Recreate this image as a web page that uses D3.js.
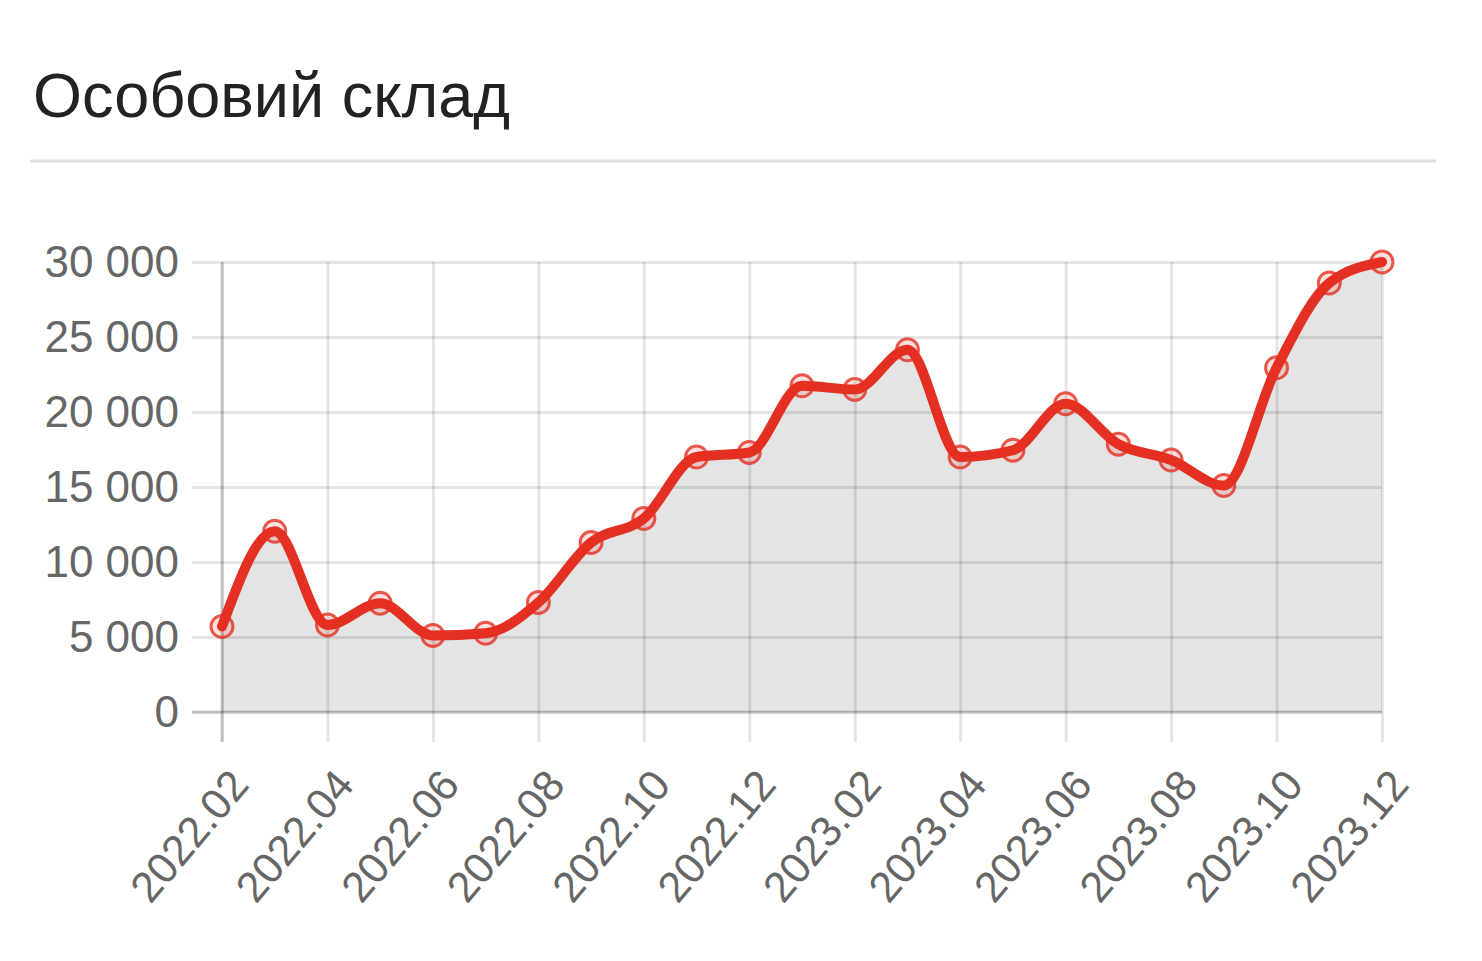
<!DOCTYPE html>
<html>
<head>
<meta charset="utf-8">
<script src="https://cdn.jsdelivr.net/npm/d3@7"></script>
<style>
  html, body { margin: 0; padding: 0; background: #fff; }
  svg { display: block; font-family: "Liberation Sans", Arial, Helvetica, sans-serif; }
</style>
</head>
<body>
<svg id="chart" width="1482" height="961"></svg>
<script>
const title = "Особовий склад";
const months = ["2022.02","2022.03","2022.04","2022.05","2022.06","2022.07","2022.08","2022.09","2022.10","2022.11","2022.12",
                "2023.01","2023.02","2023.03","2023.04","2023.05","2023.06","2023.07","2023.08","2023.09","2023.10","2023.11","2023.12"];
const personnel = [5700, 12050, 5800, 7250, 5100, 5250, 7300, 11300, 12900, 17000, 17300,
                   21750, 21500, 24150, 17000, 17450, 20550, 17850, 16800, 15100, 22950, 28600, 30000];
const xTickLabels = ["2022.02","2022.04","2022.06","2022.08","2022.10","2022.12","2023.02","2023.04","2023.06","2023.08","2023.10","2023.12"];
const yTicks = [0, 5000, 10000, 15000, 20000, 25000, 30000];

const svg = d3.select("#chart");
const pLeft = 222, pRight = 1382, pTop = 262, pBottom = 712;
const red = "rgb(228,48,34)";

// Title and separator
svg.append("text").attr("x", 33).attr("y", 117)
  .attr("font-size", 63).attr("fill", "#222").text(title);
svg.append("line").attr("x1", 30).attr("x2", 1436).attr("y1", 161).attr("y2", 161)
  .attr("stroke", "#e0e0e0").attr("stroke-width", 3);

const x = d3.scalePoint().domain(months).range([pLeft, pRight]);
const y = d3.scaleLinear().domain([0, 30000]).range([pBottom, pTop]);

const data = months.map((m, i) => ({ m, v: personnel[i] }));

// Area fill
const area = d3.area().x(d => x(d.m)).y0(y(0)).y1(d => y(d.v)).curve(d3.curveMonotoneX);
svg.append("path").datum(data).attr("d", area).attr("fill", "#e4e4e4");

const fmt = v => d3.format(",")(v).replace(/,/g, " ");

// Y axis with gridlines
const yAxis = svg.append("g").attr("transform", `translate(${pRight},0)`)
  .call(d3.axisLeft(y).tickValues(yTicks).tickSize(pRight - 192).tickPadding(13).tickFormat(fmt));
yAxis.select(".domain").remove();
yAxis.selectAll(".tick line").attr("stroke", "rgba(0,0,0,0.1)").attr("stroke-width", 3);
yAxis.selectAll(".tick text").attr("font-size", 44).attr("fill", "#666")
  .attr("font-family", "Liberation Sans, Arial, sans-serif");

// X axis with gridlines
const xAxis = svg.append("g").attr("transform", `translate(0,${pTop})`)
  .call(d3.axisBottom(x).tickValues(xTickLabels).tickSize(742 - pTop).tickPadding(0));
xAxis.select(".domain").remove();
xAxis.selectAll(".tick line").attr("stroke", "rgba(0,0,0,0.1)").attr("stroke-width", 3);
xAxis.selectAll(".tick text")
  .attr("font-size", 43).attr("fill", "#666")
  .attr("font-family", "Liberation Sans, Arial, sans-serif")
  .attr("x", null).attr("y", null).attr("dy", null)
  .attr("text-anchor", "end")
  .attr("transform", `translate(28,${786 - pTop}) rotate(-50)`);

// Axis lines
svg.append("line").attr("x1", pLeft).attr("x2", pLeft).attr("y1", pTop).attr("y2", 742)
  .attr("stroke", "rgba(0,0,0,0.16)").attr("stroke-width", 3);
svg.append("line").attr("x1", 192).attr("x2", pRight).attr("y1", pBottom).attr("y2", pBottom)
  .attr("stroke", "rgba(0,0,0,0.16)").attr("stroke-width", 3);

// Line
const line = d3.line().x(d => x(d.m)).y(d => y(d.v)).curve(d3.curveMonotoneX);
svg.append("path").datum(data).attr("d", line)
  .attr("fill", "none").attr("stroke", red).attr("stroke-width", 10)
  .attr("stroke-linejoin", "round").attr("stroke-linecap", "round");

// Points
svg.append("g").selectAll("circle").data(data).join("circle")
  .attr("cx", d => x(d.m)).attr("cy", d => y(d.v)).attr("r", 11)
  .attr("fill", "rgba(228,48,34,0.15)").attr("stroke", red).attr("stroke-opacity", 0.8)
  .attr("stroke-width", 3);
</script>
</body>
</html>
